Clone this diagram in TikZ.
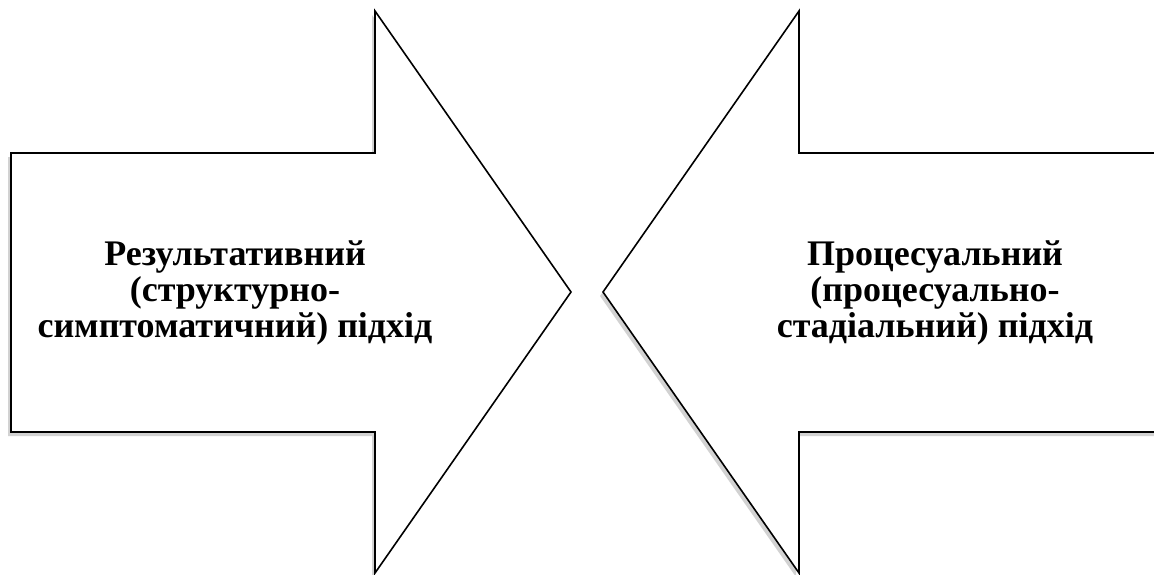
\documentclass[tikz,border=0pt]{standalone}
\usepackage{fontspec}
\setmainfont{Liberation Serif}
\usetikzlibrary{shadows}

\begin{document}
\begin{tikzpicture}[x=1pt, y=-1pt, line join=miter,
  freccia/.style={draw=black, line width=1.6pt, fill=white,
    drop shadow={shadow xshift=-3pt, shadow yshift=-4pt, fill=black!35, opacity=.5}},
  testo/.style={font=\bfseries\fontsize{36}{36}\selectfont, align=center}]

\useasboundingbox (0,0) rectangle (1154,574);
\clip (0,0) rectangle (1154,574);

% Freccia sinistra
\draw[freccia] (11,153) -- (375,153) -- (375,11) -- (571,292) -- (375,573)
  -- (375,432) -- (11,432) -- cycle;

% Freccia destra
\draw[freccia] (1170,153) -- (799,153) -- (799,11) -- (603,292) -- (799,573)
  -- (799,432) -- (1170,432) -- cycle;

% Etichette
\node[testo] (risultato) at (235,293) {Результативний\\(структурно-\\симптоматичний) підхід};
\node[testo] (processo) at (935,293) {Процесуальний\\(процесуально-\\стадіальний) підхід};

\end{tikzpicture}
\end{document}
